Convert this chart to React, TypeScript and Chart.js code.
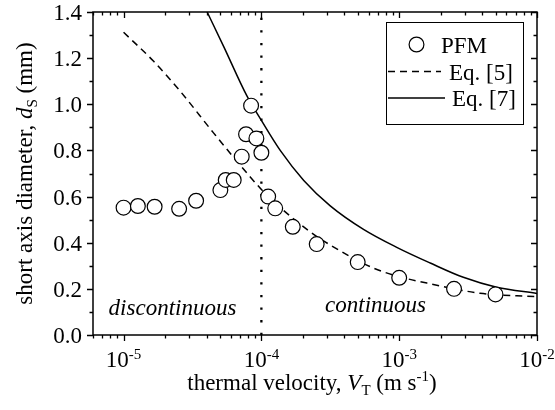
import React, { useEffect, useRef } from "react";
import { Chart, registerables } from "chart.js";

Chart.register(...registerables);

// ---- data ----
const PFM_V = [1e-5, 1.27e-5, 1.68e-5, 2.53e-5, 3.36e-5, 5.04e-5, 5.51e-5, 6.3e-5, 7.2e-5, 7.74e-5, 8.42e-5, 9.2e-5, 1e-4, 1.12e-4, 1.26e-4, 1.69e-4, 2.52e-4, 5.0e-4, 1e-3, 2.5e-3, 5e-3];
const PFM_D = [0.552, 0.559, 0.556, 0.547, 0.582, 0.628, 0.672, 0.672, 0.773, 0.870, 0.994, 0.852, 0.790, 0.600, 0.549, 0.469, 0.394, 0.316, 0.248, 0.200, 0.176];

const EQ5_V = [1e-5, 1.66e-5, 2.59e-5, 4.51e-5, 8.3e-5, 1.1e-4, 2.14e-4, 3.16e-4, 6.5e-4, 1e-3, 1.68e-3, 3.86e-3, 1e-2];
const EQ5_D = [1.312, 1.185, 1.055, 0.875, 0.685, 0.605, 0.458, 0.390, 0.290, 0.253, 0.222, 0.181, 0.166];

const EQ7_V = [4.04e-5, 5.33e-5, 7.87e-5, 1e-4, 1.37e-4, 2.03e-4, 3.16e-4, 5.51e-4, 9.6e-4, 1.68e-3, 2.92e-3, 5.1e-3, 1e-2];
const EQ7_D = [1.40, 1.25, 1.035, 0.930, 0.800, 0.670, 0.560, 0.458, 0.380, 0.312, 0.250, 0.207, 0.180];

const THRESHOLD_V = 1e-4;

const X_MIN = 6e-6;
const X_MAX = 1e-2;
const Y_MIN = 0;
const Y_MAX = 1.4;

const Y_TICKS = [0, 0.2, 0.4, 0.6, 0.8, 1.0, 1.2, 1.4];
const Y_MINOR = [0.1, 0.3, 0.5, 0.7, 0.9, 1.1, 1.3];
const X_TICK_EXP = [-5, -4, -3, -2];

const LEGEND_LABELS = ["PFM", "Eq. [5]", "Eq. [7]"];
const REGION_LABELS = ["discontinuous", "continuous"];

const FONT = '"Liberation Serif", "Times New Roman", serif';
const FS = 23;
const FS_SMALL = 15;

type Seg = { t: string; it?: boolean; sz?: number; dy?: number };

function segWidth(ctx: CanvasRenderingContext2D, segs: Seg[]) {
  let w = 0;
  for (const s of segs) {
    ctx.font = `${s.it ? "italic " : ""}${s.sz ?? FS}px ${FONT}`;
    w += ctx.measureText(s.t).width;
  }
  return w;
}

function drawSegs(ctx: CanvasRenderingContext2D, segs: Seg[], x: number, y: number) {
  let cx = x;
  ctx.textAlign = "left";
  ctx.textBaseline = "alphabetic";
  for (const s of segs) {
    ctx.font = `${s.it ? "italic " : ""}${s.sz ?? FS}px ${FONT}`;
    ctx.fillText(s.t, cx, y + (s.dy ?? 0));
    cx += ctx.measureText(s.t).width;
  }
}

const decorPlugin = {
  id: "decor",
  afterDraw(chart: any) {
    const ctx: CanvasRenderingContext2D = chart.ctx;
    const { left, right, top, bottom } = chart.chartArea;
    const xs = chart.scales.x;
    const ys = chart.scales.y;
    ctx.save();
    ctx.fillStyle = "#000";
    ctx.strokeStyle = "#000";

    // frame
    ctx.lineWidth = 1.5;
    ctx.setLineDash([]);
    ctx.strokeRect(left, top, right - left, bottom - top);

    // y ticks
    ctx.lineWidth = 1.3;
    const yt = (v: number, len: number) => {
      const p = Math.round(ys.getPixelForValue(v)) + 0.5;
      ctx.beginPath();
      ctx.moveTo(left, p);
      ctx.lineTo(left - len, p);
      ctx.moveTo(right, p);
      ctx.lineTo(right - len, p);
      ctx.stroke();
    };
    Y_TICKS.forEach((v) => yt(v, 6));
    Y_MINOR.forEach((v) => yt(v, 3.5));

    // x ticks
    for (let e = -6; e <= -2; e++) {
      for (let m = 1; m <= 9; m++) {
        const v = m * Math.pow(10, e);
        if (v < X_MIN * 0.999 || v > X_MAX * 1.001) continue;
        const len = m === 1 ? 6 : 3.5;
        const p = Math.round(xs.getPixelForValue(v)) + 0.5;
        ctx.beginPath();
        ctx.moveTo(p, bottom);
        ctx.lineTo(p, bottom + len);
        ctx.moveTo(p, top);
        ctx.lineTo(p, top + len);
        ctx.stroke();
      }
    }

    // y tick labels
    ctx.font = `${FS}px ${FONT}`;
    ctx.textAlign = "right";
    ctx.textBaseline = "alphabetic";
    Y_TICKS.forEach((v) => {
      ctx.fillText(v.toFixed(1), left - 11, ys.getPixelForValue(v) + 8);
    });

    // x tick labels
    X_TICK_EXP.forEach((e) => {
      const segs: Seg[] = [
        { t: "10" },
        { t: String(e), sz: FS_SMALL, dy: -8 },
      ];
      const w = segWidth(ctx, segs);
      const p = xs.getPixelForValue(Math.pow(10, e));
      drawSegs(ctx, segs, p - w / 2, bottom + 32);
    });

    // x title
    const xt: Seg[] = [
      { t: "thermal velocity, " },
      { t: "V", it: true },
      { t: "T", sz: FS_SMALL, dy: 5 },
      { t: " (m s" },
      { t: "-1", sz: FS_SMALL, dy: -9 },
      { t: ")" },
    ];
    const xw = segWidth(ctx, xt);
    drawSegs(ctx, xt, (left + right) / 2 - xw / 2 - 3, bottom + 55);

    // y title
    const ytl: Seg[] = [
      { t: "short axis diameter, " },
      { t: "d", it: true },
      { t: "S", sz: FS_SMALL, dy: 5 },
      { t: " (mm)" },
    ];
    const yw = segWidth(ctx, ytl);
    ctx.save();
    ctx.translate(32, (top + bottom) / 2);
    ctx.rotate(-Math.PI / 2);
    drawSegs(ctx, ytl, -yw / 2, 0);
    ctx.restore();

    // region labels
    ctx.font = `italic ${FS}px ${FONT}`;
    ctx.textAlign = "center";
    ctx.fillText(REGION_LABELS[0], 172.5, 315);
    ctx.fillText(REGION_LABELS[1], 375.5, 312);

    // legend
    ctx.lineWidth = 1;
    ctx.setLineDash([]);
    ctx.fillStyle = "#fff";
    ctx.fillRect(386, 22.5, 137, 102);
    ctx.strokeRect(386.5, 22.5, 137, 102);
    ctx.fillStyle = "#000";
    ctx.textAlign = "left";
    ctx.font = `${FS}px ${FONT}`;
    // PFM
    ctx.beginPath();
    ctx.arc(416.5, 44.5, 7.4, 0, Math.PI * 2);
    ctx.lineWidth = 1.2;
    ctx.stroke();
    ctx.fillText(LEGEND_LABELS[0], 441, 52.5);
    // Eq 5
    ctx.lineWidth = 1.5;
    ctx.setLineDash([7, 5]);
    ctx.beginPath();
    ctx.moveTo(388, 71.5);
    ctx.lineTo(441, 71.5);
    ctx.stroke();
    ctx.setLineDash([]);
    ctx.fillText(LEGEND_LABELS[1], 449, 79.5);
    // Eq 7
    ctx.beginPath();
    ctx.moveTo(388, 98);
    ctx.lineTo(445, 98);
    ctx.stroke();
    ctx.fillText(LEGEND_LABELS[2], 452, 106);

    ctx.restore();
  },
};

export default function App() {
  const ref = useRef<HTMLCanvasElement>(null);
  useEffect(() => {
    if (!ref.current) return;
    const chart = new Chart(ref.current, {
      type: "scatter",
      data: {
        datasets: [
          {
            label: LEGEND_LABELS[0],
            data: PFM_V.map((v, i) => ({ x: v, y: PFM_D[i] })),
            showLine: false,
            pointRadius: 7.4,
            pointBorderWidth: 1.2,
            pointBorderColor: "#000",
            pointBackgroundColor: "#fff",
            order: 0,
          },
          {
            label: LEGEND_LABELS[1],
            data: EQ5_V.map((v, i) => ({ x: v, y: EQ5_D[i] })),
            showLine: true,
            pointRadius: 0,
            borderColor: "#000",
            borderWidth: 1.5,
            borderDash: [7, 5],
            cubicInterpolationMode: "monotone",
            order: 1,
          },
          {
            label: LEGEND_LABELS[2],
            data: EQ7_V.map((v, i) => ({ x: v, y: EQ7_D[i] })),
            showLine: true,
            pointRadius: 0,
            borderColor: "#000",
            borderWidth: 1.5,
            cubicInterpolationMode: "monotone",
            order: 1,
          },
          {
            label: "threshold",
            data: [
              { x: THRESHOLD_V, y: Y_MIN },
              { x: THRESHOLD_V, y: Y_MAX },
            ],
            showLine: true,
            pointRadius: 0,
            borderColor: "#000",
            borderWidth: 2.3,
            borderDash: [2.3, 10.3],
            order: 2,
          },
        ],
      },
      options: {
        responsive: false,
        animation: false,
        layout: { padding: { left: 93, top: 12, right: 18, bottom: 75 } },
        plugins: {
          legend: { display: false },
          tooltip: { enabled: false },
        },
        scales: {
          x: { type: "logarithmic", min: X_MIN, max: X_MAX, display: false },
          y: { type: "linear", min: Y_MIN, max: Y_MAX, display: false },
        },
      },
      plugins: [decorPlugin],
    });
    return () => chart.destroy();
  }, []);
  return (
    <div style={{ position: "absolute", left: 0, top: 0, width: 555, height: 410, background: "#fff" }}>
      <canvas ref={ref} width={555} height={410} style={{ display: "block" }} />
    </div>
  );
}
